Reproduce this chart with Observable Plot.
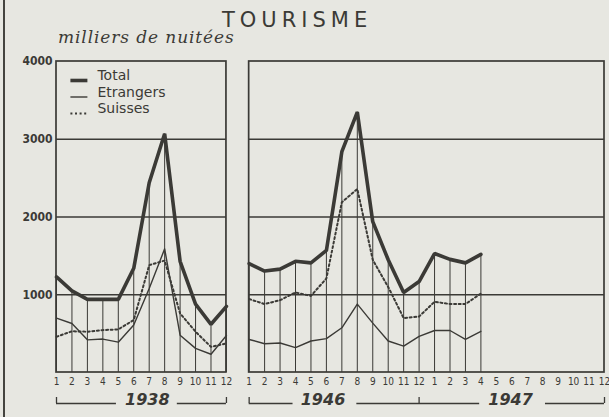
<!DOCTYPE html>
<html><head><meta charset="utf-8">
<script src="https://cdn.jsdelivr.net/npm/d3@7"></script>
<script src="https://cdn.jsdelivr.net/npm/@observablehq/plot@0.6"></script>
<style>
html,body{margin:0;padding:0;background:#e7e7e1;}
#wrap{position:relative;width:609px;height:417px;background:#e7e7e1;overflow:hidden;}
#wrap:before{content:"";position:absolute;left:3px;top:0;width:2px;height:417px;background:#45443f;}
#title{position:absolute;left:222px;top:8px;font-family:"DejaVu Sans";font-size:21px;letter-spacing:5px;color:#3b3a36;white-space:nowrap;}
#subtitle{position:absolute;left:58px;top:27px;font-family:"DejaVu Serif";font-style:italic;font-size:17px;letter-spacing:0.9px;color:#3b3a36;white-space:nowrap;}
#chart{position:absolute;left:0;top:0;}
#chart svg{background:transparent;}
g[aria-label="years"] text{letter-spacing:2px;}
g[aria-label="legend-text"] text{letter-spacing:1px;}
</style>
</head><body>
<div id="wrap">
  <div id="chart"></div>
  <div id="title">TOURISME</div>
  <div id="subtitle">milliers de nuitées</div>
</div>
<script>
// ---- data ----
const months = [1,2,3,4,5,6,7,8,9,10,11,12];
const total1938     = [1230,1050,940,940,940,1340,2440,3070,1430,880,620,850];
const etrangers1938 = [700,630,420,430,390,610,1080,1590,480,310,235,475];
const suisses1938   = [460,530,525,545,555,675,1380,1440,760,525,330,375];
// 1946 (12 months) + 1947 (Jan-Apr)
const total4647     = [1400,1305,1330,1430,1410,1570,2840,3350,1940,1450,1030,1170,1530,1455,1410,1520];
const etrangers4647 = [425,370,380,320,405,435,575,880,635,405,340,465,540,540,425,530];
const suisses4647   = [945,880,930,1030,985,1210,2190,2360,1450,1100,700,720,910,880,880,1015];
const yTicks = [1000,2000,3000,4000];
const years = ["1938","1946","1947"];
const seriesNames = ["Total","Etrangers","Suisses"];

// ---- layout ----
const ink = "#3b3a36";
const OFF = 12.47;              // start of right panel on the x index scale
const XMAX = OFF + 23;
const pxv = 4000/311;           // data units per pixel on y

const rows = [];
function add(panel, start, arrs){
  arrs.forEach((arr, s) => arr.forEach((v,i) => rows.push({panel, x: start+i, series: seriesNames[s], v})));
}
add("1938", 0, [total1938, etrangers1938, suisses1938]);
add("4647", OFF, [total4647, etrangers4647, suisses4647]);
const totals = rows.filter(d => d.series === "Total");

const panels = [{x1:0, x2:11}, {x1:OFF, x2:XMAX}];
const grid = [];
panels.forEach(p => yTicks.slice(0,3).forEach(y => grid.push({y, x1:p.x1, x2:p.x2})));

const tickPos = [], tickLab = new Map();
months.forEach((m,i) => {tickPos.push(i); tickLab.set(i, String(m));});
[...months, ...months].forEach((m,i) => {const p = OFF+i; tickPos.push(p); tickLab.set(p, String(m));});

const yearPos = [5.88, 17.25, 29.39];
const bracketY = -31*pxv, tickTop = -25*pxv;
const bracketSegs = [
  {x1:0, x2:3.88}, {x1:7.82, x2:11},
  {x1:OFF, x2:15.31}, {x1:19.44, x2:27.39}, {x1:31.65, x2:XMAX}
];
const bracketTicks = [0, 11, OFF, OFF+11, XMAX];

const legY = [(372-75)*pxv, (372-92)*pxv, (372-108)*pxv];
const legLineY = [(372-80)*pxv, (372-96.5)*pxv, (372-113)*pxv];
const legend = seriesNames.map((s,i) => ({s, ty: legY[i], ly: legLineY[i]}));

const font = "DejaVu Sans";
const chart = Plot.plot({
  width: 609, height: 417,
  marginLeft: 56, marginRight: 5, marginTop: 61, marginBottom: 45,
  style: {background: "transparent", color: ink, fontFamily: font},
  x: {domain: [0, XMAX], axis: null},
  y: {domain: [0, 4000], axis: null},
  marks: [
    Plot.ruleY(grid, {y: "y", x1: "x1", x2: "x2", stroke: ink, strokeWidth: 1.4}),
    Plot.ruleX(totals, {x: "x", y1: 0, y2: "v", stroke: ink, strokeWidth: 1}),
    Plot.rect(panels, {x1: "x1", x2: "x2", y1: 0, y2: 4000, fill: "none", stroke: ink, strokeWidth: 1.7}),
    Plot.line(rows.filter(d => d.series === "Etrangers"), {x: "x", y: "v", z: "panel", stroke: ink, strokeWidth: 1.4}),
    Plot.line(rows.filter(d => d.series === "Suisses"), {x: "x", y: "v", z: "panel", stroke: ink, strokeWidth: 2, strokeDasharray: "2,2.6"}),
    Plot.line(totals, {x: "x", y: "v", z: "panel", stroke: ink, strokeWidth: 3.6, strokeLinejoin: "miter"}),
    Plot.axisY({ticks: yTicks, tickSize: 0, tickPadding: 4, tickFormat: d => String(d), label: null, fontSize: 12, fontWeight: "bold", fontFamily: "DejaVu Sans Condensed"}),
    Plot.axisX({ticks: tickPos, tickSize: 0, tickPadding: 5, tickFormat: d => tickLab.get(d), label: null, fontSize: 10, fontFamily: "DejaVu Sans Condensed"}),
    // legend
    Plot.link(legend.slice(0,1), {x1: 0.9, x2: 2.0, y1: "ly", y2: "ly", stroke: ink, strokeWidth: 3.6}),
    Plot.link(legend.slice(1,2), {x1: 0.9, x2: 2.0, y1: "ly", y2: "ly", stroke: ink, strokeWidth: 1.4}),
    Plot.link(legend.slice(2,3), {x1: 0.9, x2: 2.0, y1: "ly", y2: "ly", stroke: ink, strokeWidth: 2, strokeDasharray: "2,2.6"}),
    Plot.text(legend, {x: 2.65, y: "ty", text: "s", textAnchor: "start", fontSize: 14, fill: ink, ariaLabel: "legend-text"}),
    // year brackets
    Plot.ruleY(bracketSegs, {y: bracketY, x1: "x1", x2: "x2", stroke: ink, strokeWidth: 1.3}),
    Plot.ruleX(bracketTicks, {x: d => d, y1: bracketY, y2: tickTop, stroke: ink, strokeWidth: 1.3}),
    Plot.text(years, {x: (d,i) => yearPos[i], y: bracketY, dy: -4, text: d => d, fontSize: 16, fontStyle: "italic", fontWeight: "bold", fill: ink, ariaLabel: "years"})
  ]
});
document.getElementById("chart").appendChild(chart);
</script>
</body></html>
